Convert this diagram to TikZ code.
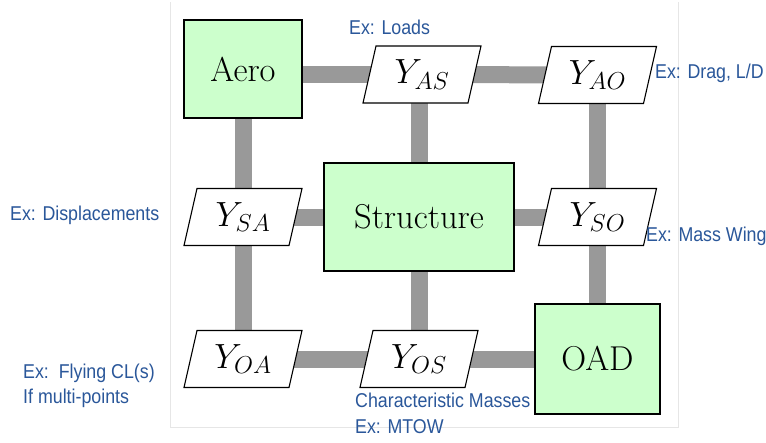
\RequirePackage{fix-cm}
\documentclass[tikz,border=0pt]{standalone}
\usepackage{fontspec}
\newfontfamily\labfont[FakeStretch=0.89]{Liberation Sans}
\usetikzlibrary{backgrounds,calc}
\definecolor{boxgreen}{HTML}{CCFFCC}
\definecolor{conngray}{HTML}{999999}
\definecolor{labblue}{HTML}{2A579A}
\definecolor{framegray}{HTML}{E6E6E6}
\tikzset{
  discbox/.style={draw=black,line width=1.1pt,fill=boxgreen,inner sep=0pt,
    font=\fontsize{34.5}{40}\selectfont},
  paratext/.style={inner sep=0pt,font=\fontsize{35}{40}\selectfont},
  parabox/.style={draw=black,line width=1.1pt,fill=white,line join=miter},
  conn/.style={draw=conngray,line width=17pt,line cap=butt},
  lab/.style={anchor=base west,inner sep=0pt,text=labblue,
    font=\labfont\fontsize{20}{26}\selectfont},
}
\newcommand\paranode[3]{%
  \coordinate (#1-c) at #2;
  \draw[parabox] ([shift={(-46,-28.5)}]#1-c) -- ([shift={(59,-28.5)}]#1-c)
    -- ([shift={(46,28.5)}]#1-c) -- ([shift={(-59,28.5)}]#1-c) -- cycle;
  \node[paratext] (#1) at (#1-c) {#3};
}
\begin{document}
\begin{tikzpicture}[x=1pt,y=-1pt]
\useasboundingbox (0,0) rectangle (766,442);
% boxes
\node[discbox,minimum width=118pt,minimum height=98pt] (Aero) at (243,69) {Aero};
\node[discbox,minimum width=190pt,minimum height=108pt] (Structure) at (419,217) {Structure};
\node[discbox,minimum width=125pt,minimum height=110pt] (OAD) at (597.5,359) {OAD};
% parallelograms
\paranode{YAS}{(422,74.5)}{$Y_{AS}$}
\paranode{YAO}{(597.5,75)}{$Y_{AO}$}
\paranode{YSA}{(243,217)}{$Y_{SA}$}
\paranode{YSO}{(597.5,217)}{$Y_{SO}$}
\paranode{YOA}{(243,359)}{$Y_{OA}$}
\paranode{YOS}{(419,359)}{$Y_{OS}$}
% labels
\node[lab] (lLoads) at (349,34) {Ex: Loads};
\node[lab] (lDrag) at (655,78) {Ex: Drag, L/D};
\node[lab] (lDisp) at (10,220) {Ex: Displacements};
\node[lab] (lMass) at (646,241) {Ex: Mass Wing};
\node[lab] (lFly) at (23,378) {Ex:\ \ Flying CL(s)};
\node[lab] (lMulti) at (23,403) {If multi-points};
\node[lab] (lChar) at (355,407) {Characteristic Masses};
\node[lab] (lMTOW) at (355,433) {Ex: MTOW};
% connectors and frame behind
\begin{scope}[on background layer]
  \fill[white] (0,0) rectangle (766,442);
  \draw[framegray,line width=0.8pt] (170,2) -- (170,427) -- (678,427) -- (678,2);
  \draw[conn] (Aero |- YAS) -- (YAS);
  \draw[conn] (YAS) -- (YAO);
  \draw[conn] (Aero) -- (YSA);
  \draw[conn] (Structure |- YAS) -- (Structure);
  \draw[conn] (YAO) -- (YSO);
  \draw[conn] (YSO) -- (OAD);
  \draw[conn] (YSA) -- (Structure);
  \draw[conn] (Structure) -- (YSO);
  \draw[conn] (YSA) -- (YOA);
  \draw[conn] (Structure) -- (YOS);
  \draw[conn] (YOA) -- (YOS);
  \draw[conn] (YOS) -- (OAD);
\end{scope}
\end{tikzpicture}
\end{document}
